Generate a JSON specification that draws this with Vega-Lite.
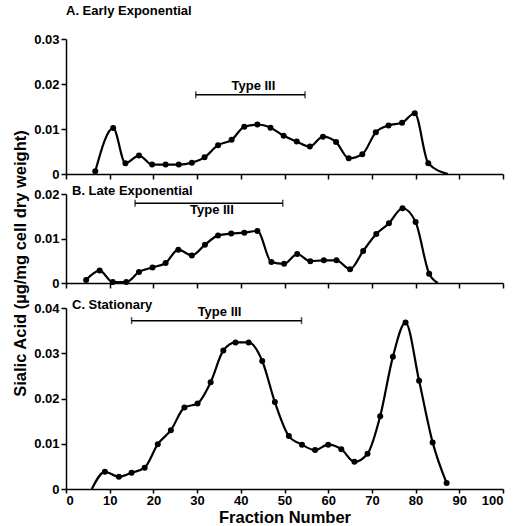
{
  "$schema": "https://vega.github.io/schema/vega-lite/v6.json",
  "padding": {"left": 12, "top": 5, "right": 5, "bottom": 0},
  "background": "white",
  "config": {
    "view": {"stroke": null},
    "font": "Liberation Sans",
    "axis": {
      "grid": false,
      "domainColor": "black",
      "domainWidth": 1.5,
      "tickColor": "black",
      "tickWidth": 1.5,
      "tickSize": 5,
      "labelColor": "black",
      "labelFont": "Liberation Sans",
      "labelFontWeight": "bold",
      "labelFontSize": 13,
      "labelPadding": 2,
      "titleColor": "black",
      "titleFont": "Liberation Sans",
      "titleFontWeight": "bold",
      "titleFontSize": 16.5
    },
    "title": {"font": "Liberation Sans", "fontWeight": "bold", "fontSize": 13, "color": "black", "anchor": "start", "frame": "group"}
  },
  "datasets": {
    "a": [
      {"fraction": 6.7, "sialic": 0.0006, "measured": true},
      {"fraction": 10.8, "sialic": 0.0102, "measured": true},
      {"fraction": 13.6, "sialic": 0.0024, "measured": true},
      {"fraction": 16.7, "sialic": 0.0041, "measured": true},
      {"fraction": 19.7, "sialic": 0.0021, "measured": true},
      {"fraction": 22.8, "sialic": 0.0021, "measured": true},
      {"fraction": 25.8, "sialic": 0.0021, "measured": true},
      {"fraction": 28.8, "sialic": 0.0025, "measured": true},
      {"fraction": 31.7, "sialic": 0.0037, "measured": true},
      {"fraction": 34.8, "sialic": 0.0064, "measured": true},
      {"fraction": 37.9, "sialic": 0.0076, "measured": true},
      {"fraction": 40.8, "sialic": 0.0105, "measured": true},
      {"fraction": 43.8, "sialic": 0.0110, "measured": true},
      {"fraction": 46.8, "sialic": 0.0103, "measured": true},
      {"fraction": 49.8, "sialic": 0.0085, "measured": true},
      {"fraction": 52.8, "sialic": 0.0072, "measured": true},
      {"fraction": 55.8, "sialic": 0.0061, "measured": true},
      {"fraction": 58.8, "sialic": 0.0083, "measured": true},
      {"fraction": 61.8, "sialic": 0.0071, "measured": true},
      {"fraction": 64.7, "sialic": 0.0035, "measured": true},
      {"fraction": 67.8, "sialic": 0.0044, "measured": true},
      {"fraction": 70.9, "sialic": 0.0093, "measured": true},
      {"fraction": 73.8, "sialic": 0.0108, "measured": true},
      {"fraction": 76.9, "sialic": 0.0114, "measured": true},
      {"fraction": 79.8, "sialic": 0.0135, "measured": true},
      {"fraction": 82.9, "sialic": 0.0024, "measured": true},
      {"fraction": 87.4, "sialic": 0.0, "measured": false}
    ],
    "b": [
      {"fraction": 4.6, "sialic": 0.0007, "measured": true},
      {"fraction": 7.7, "sialic": 0.0028, "measured": true},
      {"fraction": 10.7, "sialic": 0.0002, "measured": true},
      {"fraction": 13.8, "sialic": 0.0002, "measured": true},
      {"fraction": 16.7, "sialic": 0.0025, "measured": true},
      {"fraction": 19.8, "sialic": 0.0035, "measured": true},
      {"fraction": 22.8, "sialic": 0.0045, "measured": true},
      {"fraction": 25.7, "sialic": 0.0075, "measured": true},
      {"fraction": 28.8, "sialic": 0.0062, "measured": true},
      {"fraction": 31.8, "sialic": 0.0086, "measured": true},
      {"fraction": 34.8, "sialic": 0.0107, "measured": true},
      {"fraction": 37.8, "sialic": 0.0111, "measured": true},
      {"fraction": 40.8, "sialic": 0.0113, "measured": true},
      {"fraction": 43.8, "sialic": 0.0117, "measured": true},
      {"fraction": 47.0, "sialic": 0.0047, "measured": true},
      {"fraction": 49.9, "sialic": 0.0043, "measured": true},
      {"fraction": 52.9, "sialic": 0.0065, "measured": true},
      {"fraction": 55.9, "sialic": 0.0049, "measured": true},
      {"fraction": 59.0, "sialic": 0.0051, "measured": true},
      {"fraction": 61.9, "sialic": 0.0051, "measured": true},
      {"fraction": 65.0, "sialic": 0.0031, "measured": true},
      {"fraction": 68.0, "sialic": 0.0072, "measured": true},
      {"fraction": 71.0, "sialic": 0.0110, "measured": true},
      {"fraction": 73.9, "sialic": 0.0134, "measured": true},
      {"fraction": 77.0, "sialic": 0.0168, "measured": true},
      {"fraction": 80.0, "sialic": 0.0137, "measured": true},
      {"fraction": 83.1, "sialic": 0.0021, "measured": true},
      {"fraction": 85.1, "sialic": 0.0, "measured": false}
    ],
    "c": [
      {"fraction": 5.9, "sialic": 0.0, "measured": false},
      {"fraction": 8.9, "sialic": 0.0038, "measured": true},
      {"fraction": 12.1, "sialic": 0.0027, "measured": true},
      {"fraction": 15.0, "sialic": 0.0036, "measured": true},
      {"fraction": 18.0, "sialic": 0.0047, "measured": true},
      {"fraction": 21.0, "sialic": 0.0099, "measured": true},
      {"fraction": 24.0, "sialic": 0.0130, "measured": true},
      {"fraction": 27.1, "sialic": 0.0180, "measured": true},
      {"fraction": 30.1, "sialic": 0.0189, "measured": true},
      {"fraction": 33.1, "sialic": 0.0236, "measured": true},
      {"fraction": 36.0, "sialic": 0.0306, "measured": true},
      {"fraction": 38.8, "sialic": 0.0324, "measured": true},
      {"fraction": 41.8, "sialic": 0.0324, "measured": true},
      {"fraction": 44.9, "sialic": 0.0283, "measured": true},
      {"fraction": 47.8, "sialic": 0.0192, "measured": true},
      {"fraction": 51.0, "sialic": 0.0117, "measured": true},
      {"fraction": 54.0, "sialic": 0.0098, "measured": true},
      {"fraction": 57.0, "sialic": 0.0086, "measured": true},
      {"fraction": 60.0, "sialic": 0.0098, "measured": true},
      {"fraction": 63.0, "sialic": 0.0088, "measured": true},
      {"fraction": 66.0, "sialic": 0.0060, "measured": true},
      {"fraction": 69.0, "sialic": 0.0078, "measured": true},
      {"fraction": 71.9, "sialic": 0.0161, "measured": true},
      {"fraction": 74.8, "sialic": 0.0292, "measured": true},
      {"fraction": 77.7, "sialic": 0.0368, "measured": true},
      {"fraction": 80.8, "sialic": 0.0239, "measured": true},
      {"fraction": 83.9, "sialic": 0.0103, "measured": true},
      {"fraction": 87.1, "sialic": 0.0013, "measured": true}
    ],
    "barA": [{"start": 29.7, "end": 54.7, "level": 0.0176, "label": "Type III"}],
    "barB": [{"start": 15.8, "end": 49.6, "level": 0.0179, "label": "Type III"}],
    "barC": [{"start": 15.0, "end": 53.9, "level": 0.0372, "label": "Type III"}]
  },
  "vconcat": [
    {
      "width": 437,
      "height": 135,
      "title": {"text": "A. Early Exponential", "offset": 15},
      "layer": [
        {
          "data": {"name": "a"},
          "mark": {"type": "line", "interpolate": "monotone", "color": "black", "strokeWidth": 2.2},
          "encoding": {
            "x": {"field": "fraction", "type": "quantitative", "scale": {"domain": [0, 100], "nice": false}, "axis": {"values": [0,10,20,30,40,50,60,70,80,90,100], "labels": false, "title": null}},
            "y": {"field": "sialic", "type": "quantitative", "scale": {"domain": [0, 0.03], "nice": false}, "axis": {"values": [0, 0.01, 0.02, 0.03], "labelExpr": "datum.value == 0 ? '0' : format(datum.value, '.2f')", "title": "Sialic Acid (µg/mg cell dry weight)", "titleX": -46, "titleY": 224, "titleBaseline": "middle"}}
          }
        },
        {
          "data": {"name": "a"},
          "transform": [{"filter": "datum.measured"}],
          "mark": {"type": "point", "filled": true, "color": "black", "opacity": 1, "size": 36},
          "encoding": {
            "x": {"field": "fraction", "type": "quantitative"},
            "y": {"field": "sialic", "type": "quantitative"}
          }
        },
        {
          "data": {"name": "barA"},
          "mark": {"type": "rule", "color": "black", "strokeWidth": 1.5},
          "encoding": {"x": {"field": "start", "type": "quantitative"}, "x2": {"field": "end"}, "y": {"field": "level", "type": "quantitative"}}
        },
        {
          "data": {"name": "barA"},
          "mark": {"type": "tick", "orient": "vertical", "color": "black", "size": 7, "thickness": 1.5},
          "encoding": {"x": {"field": "start", "type": "quantitative"}, "y": {"field": "level", "type": "quantitative"}}
        },
        {
          "data": {"name": "barA"},
          "mark": {"type": "tick", "orient": "vertical", "color": "black", "size": 7, "thickness": 1.5},
          "encoding": {"x": {"field": "end", "type": "quantitative"}, "y": {"field": "level", "type": "quantitative"}}
        },
        {
          "data": {"name": "barA"},
          "transform": [{"fold": ["start", "end"]}],
          "mark": {"type": "text", "font": "Liberation Sans", "fontWeight": "bold", "fontSize": 13, "color": "black", "dy": -9, "dx": 3},
          "encoding": {"x": {"aggregate": "mean", "field": "value", "type": "quantitative"}, "y": {"field": "level", "type": "quantitative"}, "text": {"field": "label"}}
        }
      ]
    },
    {
      "spacing": 25,
      "bounds": "flush",
      "vconcat": [
        {
          "width": 437,
          "height": 89,
          "title": {"text": "B. Late Exponential", "offset": -10, "dx": 6},
          "layer": [
            {
              "data": {"name": "b"},
              "mark": {"type": "line", "interpolate": "monotone", "color": "black", "strokeWidth": 2.2},
              "encoding": {
                "x": {"field": "fraction", "type": "quantitative", "scale": {"domain": [0, 100], "nice": false}, "axis": {"values": [0,10,20,30,40,50,60,70,80,90,100], "labels": false, "title": null}},
                "y": {"field": "sialic", "type": "quantitative", "scale": {"domain": [0, 0.02], "nice": false}, "axis": {"values": [0, 0.01, 0.02], "labelExpr": "datum.value == 0 ? '0' : format(datum.value, '.2f')", "title": null}}
              }
            },
            {
              "data": {"name": "b"},
              "transform": [{"filter": "datum.measured"}],
              "mark": {"type": "point", "filled": true, "color": "black", "opacity": 1, "size": 36},
              "encoding": {
                "x": {"field": "fraction", "type": "quantitative"},
                "y": {"field": "sialic", "type": "quantitative"}
              }
            },
            {
              "data": {"name": "barB"},
              "mark": {"type": "rule", "color": "black", "strokeWidth": 1.5},
              "encoding": {"x": {"field": "start", "type": "quantitative"}, "x2": {"field": "end"}, "y": {"field": "level", "type": "quantitative"}}
            },
            {
              "data": {"name": "barB"},
              "mark": {"type": "tick", "orient": "vertical", "color": "black", "size": 7, "thickness": 1.5},
              "encoding": {"x": {"field": "start", "type": "quantitative"}, "y": {"field": "level", "type": "quantitative"}}
            },
            {
              "data": {"name": "barB"},
              "mark": {"type": "tick", "orient": "vertical", "color": "black", "size": 7, "thickness": 1.5},
              "encoding": {"x": {"field": "end", "type": "quantitative"}, "y": {"field": "level", "type": "quantitative"}}
            },
            {
              "data": {"name": "barB"},
              "transform": [{"fold": ["start", "end"]}],
              "mark": {"type": "text", "font": "Liberation Sans", "fontWeight": "bold", "fontSize": 13, "color": "black", "dy": 7, "dx": 3},
              "encoding": {"x": {"aggregate": "mean", "field": "value", "type": "quantitative"}, "y": {"field": "level", "type": "quantitative"}, "text": {"field": "label"}}
            }
          ]
        },
        {
          "width": 437,
          "height": 181,
          "title": {"text": "C. Stationary", "offset": -10, "dx": 6},
          "layer": [
            {
              "data": {"name": "c"},
              "mark": {"type": "line", "interpolate": "monotone", "color": "black", "strokeWidth": 2.2},
              "encoding": {
                "x": {"field": "fraction", "type": "quantitative", "scale": {"domain": [0, 100], "nice": false}, "axis": {"values": [0,10,20,30,40,50,60,70,80,90,100], "tickSize": 4, "labelPadding": 1, "title": "Fraction Number", "titlePadding": 2}},
                "y": {"field": "sialic", "type": "quantitative", "scale": {"domain": [0, 0.04], "nice": false}, "axis": {"values": [0, 0.01, 0.02, 0.03, 0.04], "labelExpr": "datum.value == 0 ? '0' : format(datum.value, '.2f')", "title": null}}
              }
            },
            {
              "data": {"name": "c"},
              "transform": [{"filter": "datum.measured"}],
              "mark": {"type": "point", "filled": true, "color": "black", "opacity": 1, "size": 36},
              "encoding": {
                "x": {"field": "fraction", "type": "quantitative"},
                "y": {"field": "sialic", "type": "quantitative"}
              }
            },
            {
              "data": {"name": "barC"},
              "mark": {"type": "rule", "color": "black", "strokeWidth": 1.5},
              "encoding": {"x": {"field": "start", "type": "quantitative"}, "x2": {"field": "end"}, "y": {"field": "level", "type": "quantitative"}}
            },
            {
              "data": {"name": "barC"},
              "mark": {"type": "tick", "orient": "vertical", "color": "black", "size": 7, "thickness": 1.5},
              "encoding": {"x": {"field": "start", "type": "quantitative"}, "y": {"field": "level", "type": "quantitative"}}
            },
            {
              "data": {"name": "barC"},
              "mark": {"type": "tick", "orient": "vertical", "color": "black", "size": 7, "thickness": 1.5},
              "encoding": {"x": {"field": "end", "type": "quantitative"}, "y": {"field": "level", "type": "quantitative"}}
            },
            {
              "data": {"name": "barC"},
              "transform": [{"fold": ["start", "end"]}],
              "mark": {"type": "text", "font": "Liberation Sans", "fontWeight": "bold", "fontSize": 13, "color": "black", "dy": -9, "dx": 3},
              "encoding": {"x": {"aggregate": "mean", "field": "value", "type": "quantitative"}, "y": {"field": "level", "type": "quantitative"}, "text": {"field": "label"}}
            }
          ]
        }
      ]
    }
  ],
  "spacing": 20,
  "bounds": "flush"
}
